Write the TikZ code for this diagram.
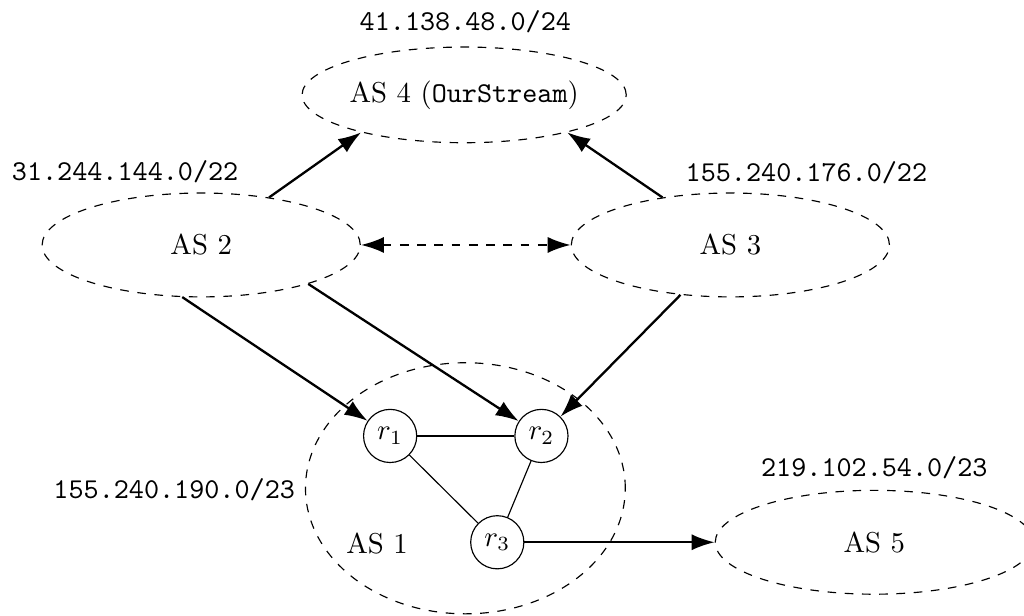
\documentclass[tikz,border=0pt]{standalone}
\usetikzlibrary{arrows.meta,shapes.geometric}

\begin{document}
\begin{tikzpicture}[
    >={Latex[length=8pt,width=5.6pt]},
    asnode/.style={draw, dashed, ellipse, minimum width=3.89cm, minimum height=1.27cm},
    router/.style={draw, circle, minimum size=0.65cm, inner sep=0pt},
    iplabel/.style={font=\ttfamily},
    link/.style={->, thick}
]
    \useasboundingbox (0,0) rectangle (12.52,7.52);

    % Autonomous systems
    \node[asnode, inner sep=0pt, minimum height=1.17cm] (as4) at (5.675,6.36) {AS 4 (\texttt{OurStream})};
    \node[asnode] (as2) at (2.46,4.525) {AS 2};
    \node[asnode] (as3) at (8.93,4.525) {AS 3};
    \node[asnode] (as5) at (10.69,0.89) {AS 5};
    \node[draw, dashed, ellipse, minimum width=3.91cm, minimum height=3.07cm] (as1) at (5.69,1.55) {};
    \node (as1name) at (4.61,0.88) {AS 1};

    % Prefixes
    \node[iplabel] (p4) at (5.69,7.25) {41.138.48.0/24};
    \node[iplabel] (p2) at (1.53,5.42) {31.244.144.0/22};
    \node[iplabel] (p3) at (9.86,5.41) {155.240.176.0/22};
    \node[iplabel] (p1) at (2.13,1.53) {155.240.190.0/23};
    \node[iplabel] (p5) at (10.69,1.80) {219.102.54.0/23};

    % Routers inside AS 1
    \node[router] (r1) at (4.77,2.19) {$r_1$};
    \node[router] (r2) at (6.62,2.19) {$r_2$};
    \node[router] (r3) at (6.08,0.89) {$r_3$};
    \draw (r1) -- (r2);
    \draw (r1) -- (r3);
    \draw (r2) -- (r3);

    % Links between ASes
    \draw[link] (as2.35) -- (as4.200);
    \draw[link] (as3.145) -- (as4.-20);
    \draw[<->, thick, dashed] (as2) -- (as3);
    \draw[link] (as2.250) -- (r1);
    \draw[link] (as2.-20) -- (r2);
    \draw[link] (as3.225) -- (r2);
    \draw[link] (r3) -- (as5);
\end{tikzpicture}
\end{document}
